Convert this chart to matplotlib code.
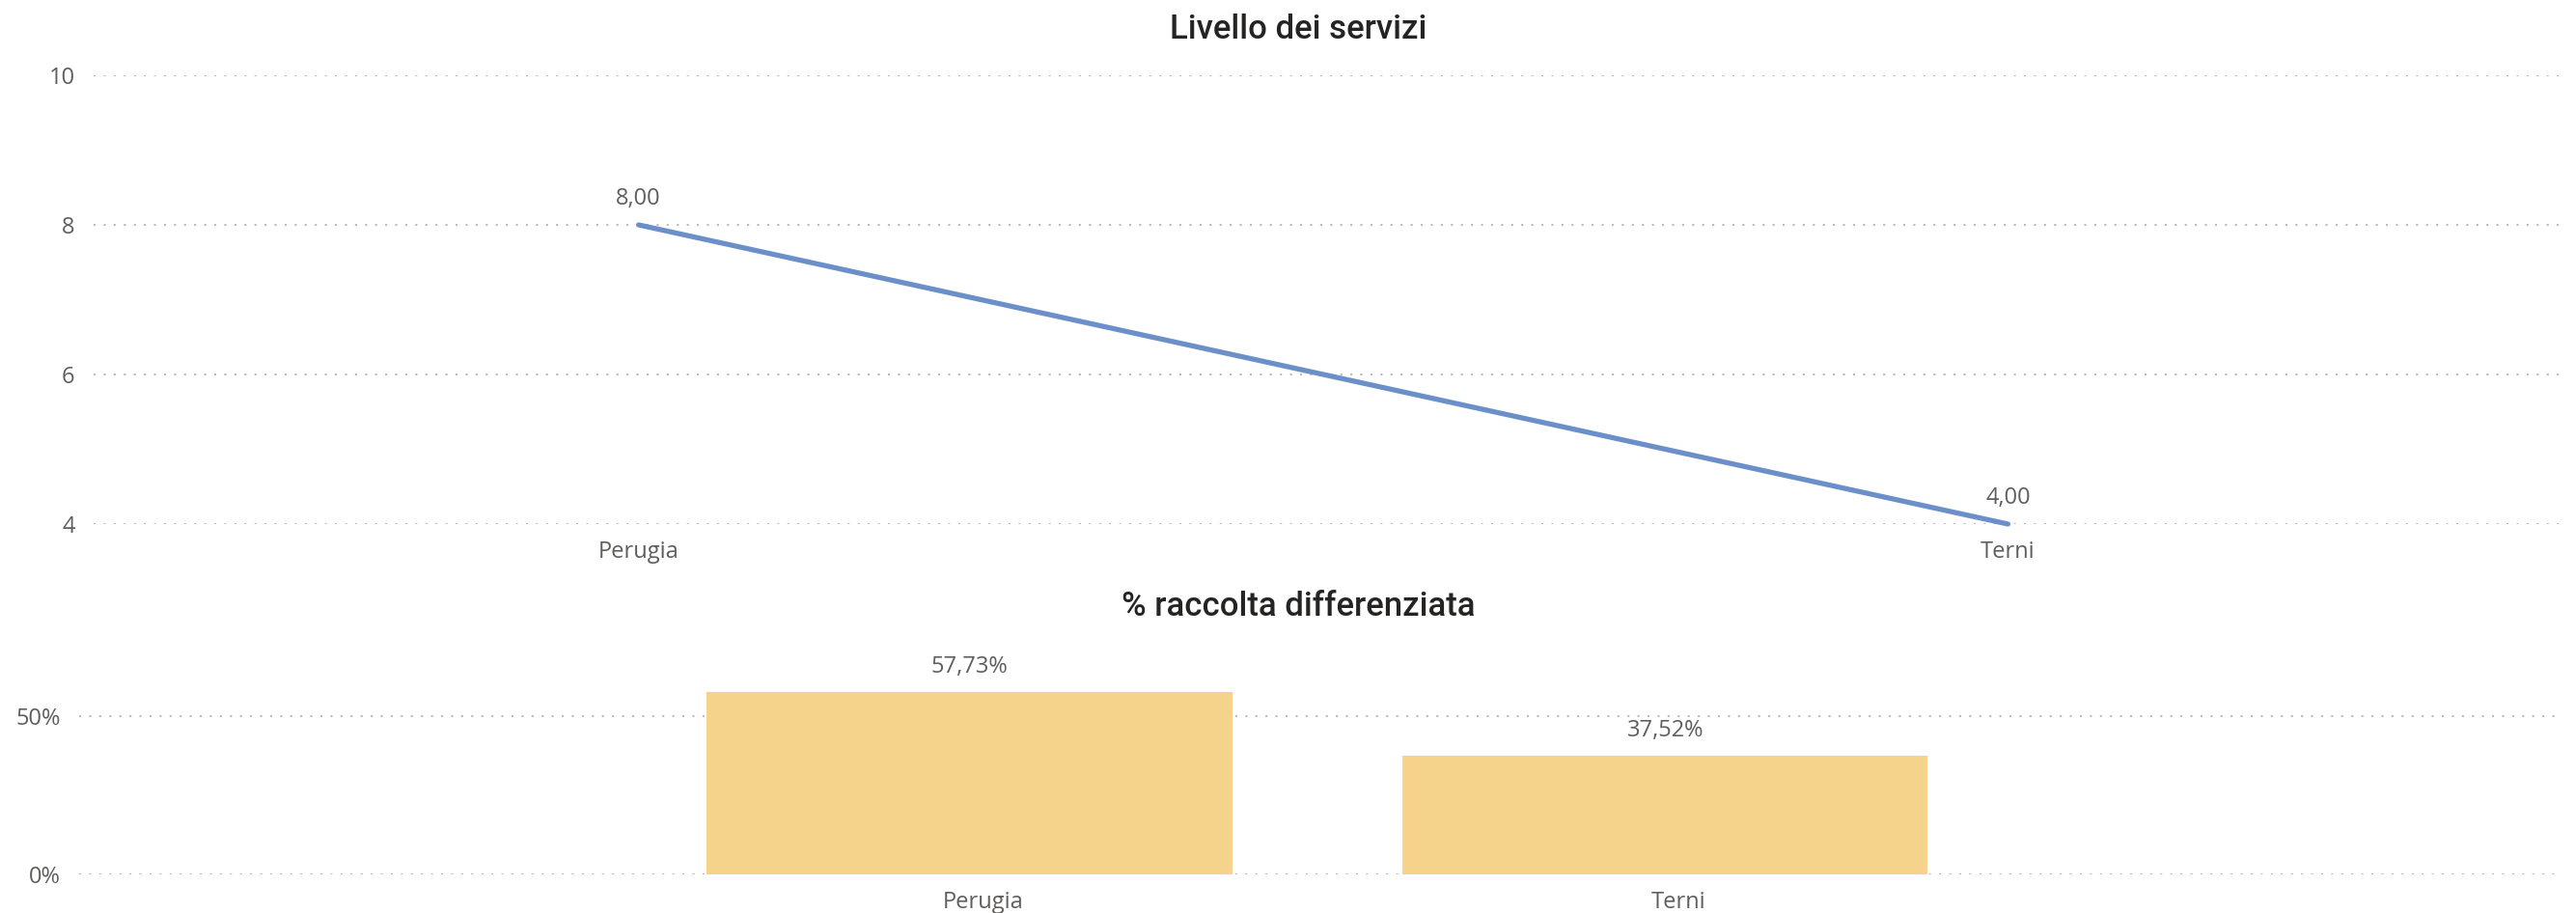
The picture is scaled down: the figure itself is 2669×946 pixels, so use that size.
import matplotlib.pyplot as plt
import matplotlib.transforms as mtransforms
from matplotlib.ticker import FuncFormatter

# data
cities = ['Perugia', 'Terni']
servizi = [8.00, 4.00]
raccolta = [57.73, 37.52]

title_top = 'Livello dei servizi'
title_bottom = '% raccolta differenziata'

line_color = '#6A8FC9'
bar_color = '#F6D38A'
grid_color = '#BDBBB9'
label_color = '#605E5C'
title_color = '#252423'

plt.rcParams['font.family'] = ['Open Sans', 'DejaVu Sans']

fig = plt.figure(figsize=(26.69, 9.46), dpi=100)

# ---- top: line chart
ax1 = fig.add_axes([97 / 2669, 1 - 543 / 946, (2655 - 97) / 2669, (543 - 78) / 946])
x1 = list(range(len(cities)))
ax1.plot(x1, servizi, color=line_color, linewidth=3.8, solid_capstyle='round', clip_on=False, zorder=3)
for xi, v in zip(x1, servizi):
    ax1.annotate(f'{v:.2f}'.replace('.', ','), (xi, v), xytext=(0, 11), textcoords='offset points',
                 ha='center', va='bottom', fontsize=17, color=label_color)
ax1.set_xlim(-0.398, 1.405)
ax1.set_ylim(4, 10)
ax1.set_yticks([4, 6, 8, 10])
ax1.set_xticks(x1)
ax1.set_xticklabels(cities)
ax1.yaxis.grid(True, color=grid_color, linestyle=(0, (1, 4)), linewidth=1.5)
ax1.set_axisbelow(True)
ax1.tick_params(axis='both', length=0, labelsize=17, labelcolor=label_color)
ax1.tick_params(axis='y', pad=14)
ax1.tick_params(axis='x', pad=12)
for s in ax1.spines.values():
    s.set_visible(False)
fig.text(1345 / 2669, 1 - 31 / 946, title_top, ha='center', va='center',
         fontsize=25, color=title_color, fontweight='medium', family=['Roboto', 'DejaVu Sans'])

# ---- bottom: bar chart
ax2 = fig.add_axes([82 / 2669, 1 - 906 / 946, (2655 - 82) / 2669, 196.8 / 946])
x2 = list(range(len(cities)))
bars = ax2.bar(x2, raccolta, width=0.755, color=bar_color, zorder=2)
for b, v in zip(bars, raccolta):
    ax2.annotate(f'{v:.2f}%'.replace('.', ','), (b.get_x() + b.get_width() / 2, v),
                 xytext=(0, 10), textcoords='offset points',
                 ha='center', va='bottom', fontsize=17, color=label_color)
ax2.set_xlim(-1.28, 2.29)
ax2.set_ylim(0, 60)
ax2.set_yticks([0, 50])
ax2.yaxis.set_major_formatter(FuncFormatter(lambda v, p: f'{v:.0f}%'))
ax2.set_xticks(x2)
ax2.set_xticklabels(cities)
ax2.yaxis.grid(True, color=grid_color, linestyle=(0, (1, 4)), linewidth=1.5)
ax2.set_axisbelow(True)
ax2.tick_params(axis='both', length=0, labelsize=17, labelcolor=label_color)
ax2.tick_params(axis='y', pad=14)
ax2.tick_params(axis='x', pad=12)
shift = mtransforms.ScaledTranslation(14 / 100, 0, fig.dpi_scale_trans)
for lbl in ax2.get_xticklabels():
    lbl.set_transform(lbl.get_transform() + shift)
for s in ax2.spines.values():
    s.set_visible(False)
fig.text(1345 / 2669, 1 - 628 / 946, title_bottom, ha='center', va='center',
         fontsize=25, color=title_color, fontweight='medium', family=['Roboto', 'DejaVu Sans'])

fig.savefig('out.png', dpi=100)
